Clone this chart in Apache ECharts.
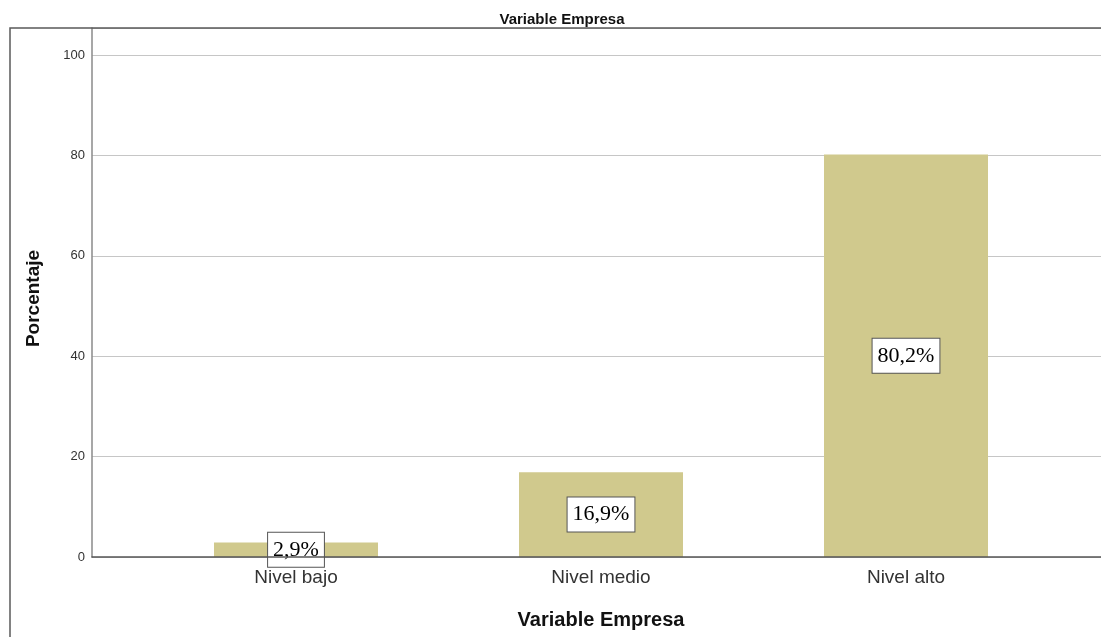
<!DOCTYPE html>
<html>
<head>
<meta charset="utf-8">
<script src="https://cdn.jsdelivr.net/npm/echarts@6/dist/echarts.min.js"></script>
<style>
  html, body { margin: 0; padding: 0; background: #fff; }
  #chart { width: 1101px; height: 637px; }
</style>
</head>
<body>
<div id="chart"></div>
<script>
// Distribución porcentual de la Variable Empresa
const categories = ['Nivel bajo', 'Nivel medio', 'Nivel alto'];
const percentages = [2.9, 16.9, 80.2];
const yTicks = [0, 20, 40, 60, 80, 100];

const yMax = 105.4;   // axis runs a little above 100 up to the frame
const fmtPct = v => v.toFixed(1).replace('.', ',') + '%';

const chart = echarts.init(document.getElementById('chart'));

chart.setOption({
  backgroundColor: '#fff',
  animation: false,
  title: {
    text: 'Variable Empresa',
    left: 557,
    top: 7,
    textAlign: 'center',
    textStyle: { fontFamily: 'Liberation Sans', fontSize: 15, fontWeight: 'bold', color: '#111' }
  },
  graphic: [
    {
      // outer chart frame
      type: 'rect',
      shape: { x: 10, y: 28, width: 1200, height: 700 },
      style: { fill: 'none', stroke: '#5a5a5a', lineWidth: 1.5 },
      z: 10
    }
  ],
  grid: [
    // frame with gridlines and axes
    { left: 92, top: 28, width: 1018, height: 529 },
    // category band for the bars
    { left: 143.5, top: 28, width: 915, height: 529 }
  ],
  xAxis: [
    {
      gridIndex: 0, type: 'value', min: 0, max: 1,
      axisLine: { show: true, lineStyle: { color: '#555', width: 1.5 } },
      axisTick: { show: false }, axisLabel: { show: false }, splitLine: { show: false },
      z: 5
    },
    {
      gridIndex: 1, type: 'category', data: categories,
      axisLine: { show: false }, axisTick: { show: false },
      axisLabel: { fontFamily: 'Liberation Sans', fontSize: 19, color: '#333', margin: 11 },
      name: 'Variable Empresa',
      nameLocation: 'middle',
      nameGap: 53,
      nameTextStyle: { fontFamily: 'Liberation Sans', fontSize: 20, fontWeight: 'bold', color: '#111' }
    }
  ],
  yAxis: [
    {
      gridIndex: 0, type: 'value', min: 0, max: yMax, interval: 20,
      axisLine: { show: true, lineStyle: { color: '#8a8a8a', width: 1.5 } },
      axisTick: { show: false },
      axisLabel: {
        fontFamily: 'Liberation Sans', fontSize: 13, color: '#333', margin: 7,
        formatter: v => (yTicks.indexOf(v) >= 0 ? String(v) : '')
      },
      splitLine: { show: true, lineStyle: { color: '#c6c6c6', width: 1.2 } },
      name: 'Porcentaje',
      nameLocation: 'middle',
      nameGap: 49,
      nameTextStyle: {
        fontFamily: 'Liberation Sans', fontSize: 19, fontWeight: 'bold', color: '#111',
        padding: [0, 12, 0, 0]
      }
    },
    {
      gridIndex: 1, type: 'value', min: 0, max: yMax, show: false,
      splitLine: { show: false }
    }
  ],
  series: [
    {
      type: 'bar',
      xAxisIndex: 1,
      yAxisIndex: 1,
      data: percentages,
      barWidth: 164,
      itemStyle: { color: '#d0c98d' },
      label: {
        show: true,
        position: 'inside',
        formatter: p => fmtPct(p.value),
        fontFamily: 'Liberation Serif',
        fontSize: 22,
        lineHeight: 26,
        color: '#000',
        backgroundColor: '#fff',
        borderColor: '#555',
        borderWidth: 1,
        padding: [4, 5]
      }
    }
  ]
});
</script>
</body>
</html>
